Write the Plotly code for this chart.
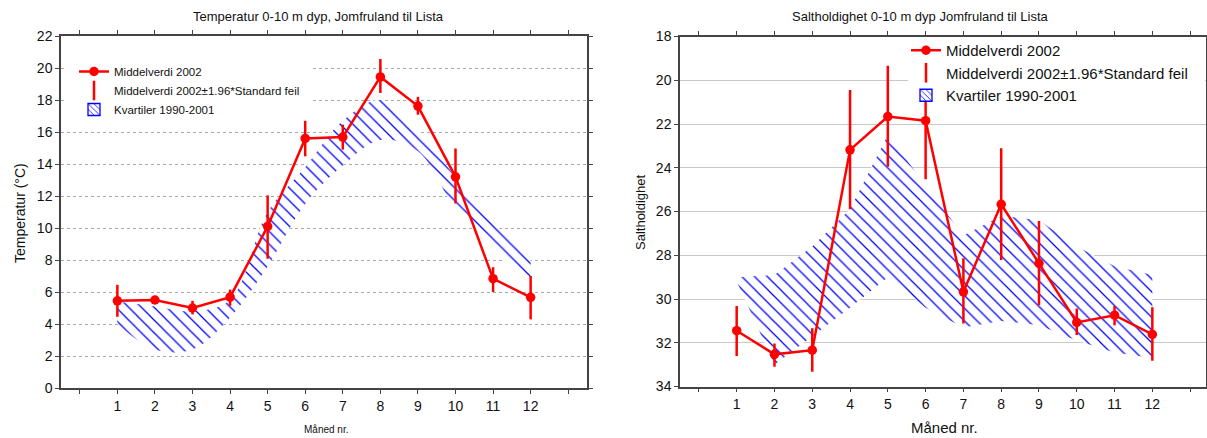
import plotly.graph_objects as go

# Month numbers on the x axis
months = list(range(1, 13))
tick_vals = list(range(0, 14))
tick_text = [""] + [str(m) for m in months] + [""]

# Temperatur 0-10 m (°C)
temp_mean = [5.45, 5.5, 5.0, 5.68, 10.1, 15.6, 15.68, 19.44, 17.62, 13.2, 6.83, 5.67]
temp_ci_hi = [6.45, 5.65, 5.45, 6.15, 12.04, 16.7, 16.46, 20.56, 18.2, 14.97, 7.55, 7.0]
temp_ci_lo = [4.45, 5.35, 4.6, 5.14, 8.08, 14.48, 14.9, 18.44, 17.08, 11.53, 6.0, 4.29]
temp_q_hi = [5.4, 5.1, 4.8, 5.5, 11.0, 13.8, 16.7, 18.0, 16.1, 13.2, 10.4, 8.1]
temp_q_lo = [4.0, 2.4, 2.4, 4.4, 7.6, 11.5, 13.9, 15.5, 14.8, 11.2, 8.7, 6.3]

# Saltholdighet 0-10 m
salt_mean = [31.45, 32.53, 32.34, 23.18, 21.66, 21.85, 29.67, 25.67, 28.37, 31.07, 30.74, 31.62]
salt_ci_lo = [30.32, 32.03, 31.34, 20.44, 19.34, 19.17, 28.14, 23.11, 26.43, 30.43, 30.32, 30.38]
salt_ci_hi = [32.61, 33.1, 33.33, 25.9, 23.95, 24.53, 31.12, 28.22, 30.28, 31.65, 31.2, 32.82]
salt_q_lo = [29.0, 28.9, 27.6, 25.9, 22.5, 24.8, 27.1, 26.2, 26.4, 27.6, 28.5, 28.9]
salt_q_hi = [29.2, 33.0, 31.7, 30.4, 29.0, 30.4, 31.3, 31.0, 31.2, 31.9, 32.45, 32.7]

RED = "#ff0000"
BLUE = "#0000ff"
FONT = "Liberation Sans, Arial, sans-serif"
W, H = 1207, 438

hatch = dict(shape="\\", fgcolor=BLUE, fgopacity=1, bgcolor="white", size=9, solidity=0.14)

fig = go.Figure()


def add_panel(xa, ya, leg, mean, ci_lo, ci_hi, q_lo, q_hi, shape):
    # quartile band
    fig.add_trace(go.Scatter(x=months, y=q_lo, mode="lines", line=dict(width=0, shape=shape),
                             xaxis=xa, yaxis=ya, showlegend=False, hoverinfo="skip"))
    fig.add_trace(go.Scatter(x=months, y=q_hi, mode="lines", line=dict(width=0, shape=shape),
                             fill="tonexty", fillcolor="rgba(0,0,0,0)", fillpattern=hatch,
                             xaxis=xa, yaxis=ya, showlegend=False, hoverinfo="skip"))
    # mean with 1.96*SE bars
    plus = [h - m for h, m in zip(ci_hi, mean)]
    minus = [m - l for m, l in zip(mean, ci_lo)]
    fig.add_trace(go.Scatter(x=months, y=mean, mode="lines+markers", name="Middelverdi 2002",
                             line=dict(color=RED, width=2.5), marker=dict(color=RED, size=9.5),
                             error_y=dict(type="data", symmetric=False, array=plus, arrayminus=minus,
                                          color=RED, thickness=2.5, width=0),
                             xaxis=xa, yaxis=ya, legend=leg))
    # legend-only entries
    fig.add_trace(go.Scatter(x=[None], y=[None], mode="markers",
                             name="Middelverdi 2002\u00b11.96*Standard feil",
                             marker=dict(symbol="line-ns", size=14, color=RED,
                                         line=dict(color=RED, width=2.5)),
                             xaxis=xa, yaxis=ya, legend=leg))
    fig.add_trace(go.Bar(x=[None], y=[None], name="Kvartiler 1990-2001",
                         marker=dict(color="white", line=dict(color=BLUE, width=1.3),
                                     pattern=dict(shape="\\", fgcolor=BLUE, fgopacity=1,
                                                  bgcolor="white", size=5, solidity=0.2)),
                         xaxis=xa, yaxis=ya, legend=leg))


add_panel("x", "y", "legend", temp_mean, temp_ci_lo, temp_ci_hi, temp_q_lo, temp_q_hi, "spline")
add_panel("x2", "y2", "legend2", salt_mean, salt_ci_lo, salt_ci_hi, salt_q_lo, salt_q_hi, "linear")

xcommon = dict(tickvals=tick_vals, ticktext=tick_text, ticks="outside", ticklen=4,
               showline=True, linecolor="#444", linewidth=1.5, mirror="ticks",
               showgrid=False, zeroline=False, automargin=False,
               tickfont=dict(size=14, color="#111"))
ycommon = dict(ticks="outside", ticklen=4, dtick=2, showline=True, linecolor="#444",
               linewidth=1.5, mirror="ticks", zeroline=False, automargin=False,
               tickfont=dict(size=14, color="#111"))


def px_x(v):
    return v / W


def px_y(v):
    return 1 - v / H


fig.update_layout(
    width=W, height=H,
    margin=dict(l=0, r=0, t=0, b=0, pad=0, autoexpand=False),
    paper_bgcolor="white", plot_bgcolor="white",
    font=dict(family=FONT, color="#111"),
    barmode="overlay",
    xaxis=dict(domain=[px_x(61), px_x(587)], range=[-0.5, 13.5], anchor="y", **xcommon),
    yaxis=dict(domain=[px_y(388), px_y(36)], range=[0, 22], anchor="x",
               showgrid=True, gridcolor="#a8a8a8", griddash="dot", gridwidth=1, **ycommon),
    xaxis2=dict(domain=[px_x(680), px_x(1206)], range=[-0.5, 13.42], anchor="y2", **xcommon),
    yaxis2=dict(domain=[px_y(386.5), px_y(36.5)], range=[34, 18], anchor="x2",
                showgrid=True, gridcolor="#c8c8c8", gridwidth=1, **ycommon),
    legend=dict(x=px_x(74), y=px_y(57), xanchor="left", yanchor="top", traceorder="normal",
                bgcolor="rgba(0,0,0,0)", font=dict(size=11.5, color="#111"), tracegroupgap=0,
                itemwidth=30),
    legend2=dict(x=px_x(906), y=px_y(34), xanchor="left", yanchor="top", traceorder="normal",
                 bgcolor="rgba(0,0,0,0)", font=dict(size=15, color="#111"), tracegroupgap=0,
                 itemwidth=30),
    shapes=[
        # white backing behind the legends (hides gridlines, as in the original)
        dict(type="rect", xref="paper", yref="paper", x0=px_x(67), x1=px_x(312),
             y0=px_y(114), y1=px_y(58), fillcolor="white", line=dict(width=0), layer="above"),
        dict(type="rect", xref="paper", yref="paper", x0=px_x(908), x1=px_x(1205),
             y0=px_y(98), y1=px_y(38), fillcolor="white", line=dict(width=0), layer="above"),
    ],
    annotations=[
        dict(text="Temperatur 0-10 m dyp, Jomfruland til Lista", x=px_x(318), y=px_y(17)),
        dict(text="Saltholdighet 0-10 m dyp Jomfruland til Lista", x=px_x(920), y=px_y(17)),
        dict(text="Måned nr.", x=px_x(326), y=px_y(429), font=dict(size=10)),
        dict(text="Måned nr.", x=px_x(944), y=px_y(427), font=dict(size=15)),
        dict(text="Temperatur (°C)", x=px_x(20), y=px_y(213), textangle=-90, font=dict(size=14)),
        dict(text="Saltholdighet", x=px_x(640), y=px_y(212), textangle=-90, font=dict(size=13)),
    ],
)
fig.update_annotations(xref="paper", yref="paper", showarrow=False,
                       xanchor="center", yanchor="middle")
fig.update_annotations(selector=dict(text="Temperatur 0-10 m dyp, Jomfruland til Lista"), font=dict(size=13))
fig.update_annotations(selector=dict(text="Saltholdighet 0-10 m dyp Jomfruland til Lista"), font=dict(size=13))

fig.write_html("out.html", config={"displayModeBar": False},
               post_script="document.body.style.margin='0';")
